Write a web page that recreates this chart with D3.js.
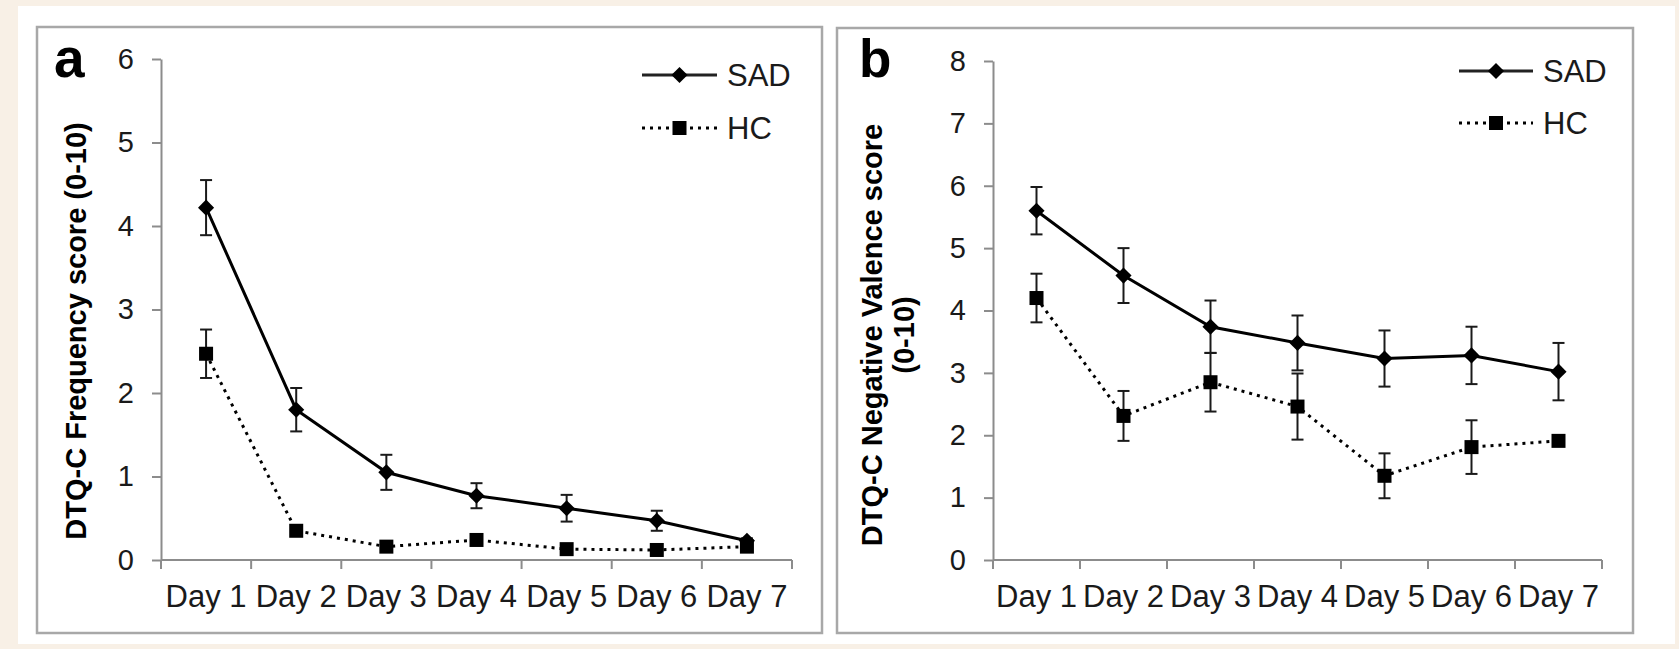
<!DOCTYPE html>
<html>
<head>
<meta charset="utf-8">
<script src="https://cdn.jsdelivr.net/npm/d3@7"></script>
<style>
    body { margin: 0; background: #f8f0e6; }
    svg { display: block; font-family: "Liberation Sans", Arial, sans-serif; }
</style>
</head>
<body>
<div id="chart"></div>
<script>
// values (means and error bar half-lengths)
const days = ['Day 1', 'Day 2', 'Day 3', 'Day 4', 'Day 5', 'Day 6', 'Day 7']

const freqSad = [4.22, 1.80, 1.05, 0.77, 0.62, 0.47, 0.23]
const freqSadErr = [0.33, 0.26, 0.21, 0.15, 0.16, 0.12, 0.03]
const freqHc = [2.47, 0.35, 0.16, 0.24, 0.13, 0.12, 0.16]
const freqHcErr = [0.29, 0.04, 0.03, 0.04, 0.03, 0.03, 0.03]
const freqTicks = [0, 1, 2, 3, 4, 5, 6]

const valSad = [5.60, 4.56, 3.74, 3.48, 3.23, 3.28, 3.02]
const valSadErr = [0.38, 0.44, 0.42, 0.44, 0.45, 0.46, 0.46]
const valHc = [4.20, 2.31, 2.85, 2.46, 1.35, 1.81, 1.91]
const valHcErr = [0.39, 0.40, 0.47, 0.53, 0.36, 0.43, 0.04]
const valTicks = [0, 1, 2, 3, 4, 5, 6, 7, 8]

const seriesNames = ['SAD', 'HC']

const W = 1679, H = 649
const svg = d3.select('#chart')
    .append('svg')
    .attr('width', W)
    .attr('height', H)

svg.append('rect')
    .attr('x', 18).attr('y', 6)
    .attr('width', 1657).attr('height', 638)
    .attr('fill', 'white')

// diamond = square turned 45 degrees
const diamond = d3.symbol().type(d3.symbolSquare).size(130)

const drawPanel = (opt) => {
    const g = svg.append('g')

    // panel frame
    g.append('rect')
        .attr('x', opt.box[0]).attr('y', opt.box[1])
        .attr('width', opt.box[2] - opt.box[0]).attr('height', opt.box[3] - opt.box[1])
        .attr('fill', 'white')
        .attr('stroke', '#a8a8a8')
        .attr('stroke-width', 2.5)

    const x = d3.scaleBand().domain(days).range(opt.xRange)
    const y = d3.scaleLinear().domain([0, d3.max(opt.ticks)]).range(opt.yRange)
    const cx = d => x(d) + x.bandwidth() / 2

    // y axis
    const yAx = g.append('g')
        .attr('transform', `translate(${opt.xRange[0]},0)`)
        .call(d3.axisLeft(y)
            .tickValues(opt.ticks)
            .tickFormat(d3.format('d'))
            .tickSize(9).tickSizeOuter(0).tickPadding(18))
    yAx.select('.domain').attr('stroke', '#8c8c8c').attr('stroke-width', 2)
    yAx.selectAll('.tick line').attr('stroke', '#8c8c8c').attr('stroke-width', 2)
    yAx.selectAll('.tick text')
        .attr('font-size', 29)
        .attr('fill', '#1a1a1a')
        .style('font-family', '"Liberation Sans", Arial, sans-serif')

    // x axis: line + ticks at band edges, labels centred in bands
    const y0 = y(0)
    g.append('line')
        .attr('x1', opt.xRange[0]).attr('x2', opt.xRange[1])
        .attr('y1', y0).attr('y2', y0)
        .attr('stroke', '#8c8c8c').attr('stroke-width', 2)
    const edges = days.map(d => x(d)).concat([opt.xRange[1]])
    g.selectAll('.xtick')
        .data(edges)
        .join('line')
        .attr('x1', d => d).attr('x2', d => d)
        .attr('y1', y0).attr('y2', y0 + 9)
        .attr('stroke', '#8c8c8c').attr('stroke-width', 2)
    g.selectAll('.xlabel')
        .data(days)
        .join('text')
        .attr('x', d => cx(d))
        .attr('y', 607)
        .attr('text-anchor', 'middle')
        .attr('font-size', 31)
        .attr('fill', '#1a1a1a')
        .text(d => d)

    // panel letter
    g.append('text')
        .attr('x', opt.letterX).attr('y', 77)
        .attr('font-size', opt.letterSize)
        .attr('font-weight', 'bold')
        .text(opt.letter)

    // y title
    const title = g.append('text')
        .attr('transform', `translate(${opt.titleX},${opt.titleY}) rotate(-90)`)
        .attr('text-anchor', 'middle')
        .attr('font-size', 29)
        .attr('font-weight', 'bold')
    opt.title.forEach((t, i) => {
        title.append('tspan')
            .attr('x', 0)
            .attr('dy', i == 0 ? 0 : 32)
            .text(t)
    })

    const series = [
        { vals: opt.sad, err: opt.sadErr, dash: null, marker: 'diamond' },
        { vals: opt.hc, err: opt.hcErr, dash: '3,5', marker: 'square' },
    ]

    series.forEach(s => {
        const pts = days.map((d, i) => ({ day: d, v: s.vals[i], e: s.err[i] }))

        // error bars
        const eb = g.append('g').attr('stroke', '#1a1a1a').attr('stroke-width', 2)
        pts.forEach(p => {
            eb.append('line')
                .attr('x1', cx(p.day)).attr('x2', cx(p.day))
                .attr('y1', y(p.v - p.e)).attr('y2', y(p.v + p.e))
            ;[p.v - p.e, p.v + p.e].forEach(v => {
                eb.append('line')
                    .attr('x1', cx(p.day) - 6).attr('x2', cx(p.day) + 6)
                    .attr('y1', y(v)).attr('y2', y(v))
            })
        })

        g.append('path')
            .datum(pts)
            .attr('fill', 'none')
            .attr('stroke', 'black')
            .attr('stroke-width', 3)
            .attr('stroke-dasharray', s.dash)
            .attr('d', d3.line().x(p => cx(p.day)).y(p => y(p.v)))

        if (s.marker == 'diamond') {
            g.selectAll(null)
                .data(pts)
                .join('path')
                .attr('d', diamond)
                .attr('transform', p => `translate(${cx(p.day)},${y(p.v)}) rotate(45)`)
                .attr('fill', 'black')
        } else {
            g.selectAll(null)
                .data(pts)
                .join('rect')
                .attr('x', p => cx(p.day) - 7)
                .attr('y', p => y(p.v) - 7)
                .attr('width', 14).attr('height', 14)
                .attr('fill', 'black')
        }
    })

    // legend
    const lg = g.append('g')
    seriesNames.forEach((name, i) => {
        const ly = opt.legendY[i]
        const mid = (opt.legendX[0] + opt.legendX[1]) / 2
        lg.append('line')
            .attr('x1', opt.legendX[0]).attr('x2', opt.legendX[1])
            .attr('y1', ly).attr('y2', ly)
            .attr('stroke', i == 0 ? '#222' : 'black')
            .attr('stroke-width', 3)
            .attr('stroke-dasharray', i == 0 ? null : '3,5')
        if (i == 0) {
            lg.append('path')
                .attr('d', diamond)
                .attr('transform', `translate(${mid},${ly}) rotate(45)`)
        } else {
            lg.append('rect')
                .attr('x', mid - 7).attr('y', ly - 7)
                .attr('width', 14).attr('height', 14)
        }
        lg.append('text')
            .attr('x', opt.legendX[1] + 10)
            .attr('y', ly + 11)
            .attr('font-size', 31)
            .attr('fill', '#1a1a1a')
            .text(name)
    })
}

drawPanel({
    box: [37, 27, 822, 633],
    xRange: [161, 792],
    yRange: [560, 59],
    ticks: freqTicks,
    sad: freqSad, sadErr: freqSadErr,
    hc: freqHc, hcErr: freqHcErr,
    letter: 'a', letterX: 54, letterSize: 55,
    title: ['DTQ-C Frequency score (0-10)'],
    titleX: 86, titleY: 331,
    legendX: [642, 717],
    legendY: [75, 128],
})

drawPanel({
    box: [837, 28, 1633, 633],
    xRange: [993, 1602],
    yRange: [560, 61],
    ticks: valTicks,
    sad: valSad, sadErr: valSadErr,
    hc: valHc, hcErr: valHcErr,
    letter: 'b', letterX: 859, letterSize: 53,
    title: ['DTQ-C Negative Valence score', '(0-10)'],
    titleX: 882, titleY: 335,
    legendX: [1459, 1533],
    legendY: [71, 123],
})
</script>
</body>
</html>
